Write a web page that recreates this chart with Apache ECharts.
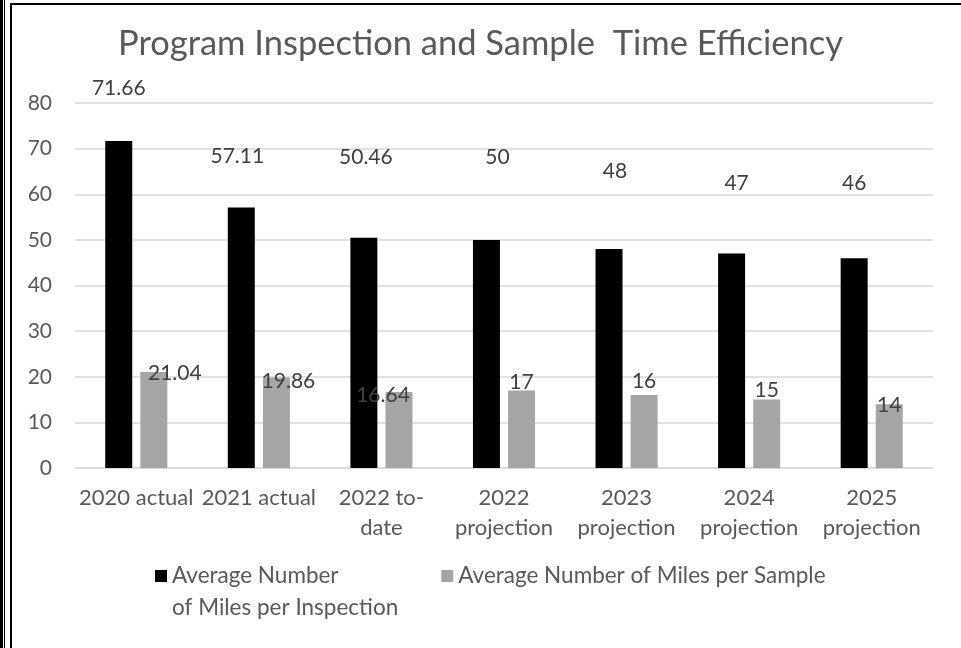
<!DOCTYPE html>
<html>
<head>
<meta charset="utf-8">
<title>Program Inspection and Sample Time Efficiency</title>
<script src="https://cdn.jsdelivr.net/npm/echarts@6/dist/echarts.min.js"></script>
<style>
    body { margin: 0; background: #fff; }
    #wrap { position: relative; width: 961px; height: 648px; overflow: hidden; }
    #main { position: absolute; left: 0; top: 0; width: 961px; height: 648px; }
    .ln { position: absolute; background: #000; }
</style>
</head>
<body>
<div id="wrap">
    <div id="main"></div>
    <!-- frame lines round the chart -->
    <div class="ln" style="left:0;top:0;width:3px;height:648px;"></div>
    <div class="ln" style="left:4px;top:0;width:1px;height:648px;"></div>
    <div class="ln" style="left:10px;top:3px;width:2px;height:645px;"></div>
    <div class="ln" style="left:10px;top:3px;width:951px;height:2px;"></div>
</div>
<script>
    // categories (x axis)
    var categories = ['2020 actual', '2021 actual', '2022 to-\ndate', '2022\nprojection',
        '2023\nprojection', '2024\nprojection', '2025\nprojection'];
    // Average Number of Miles per Inspection
    var inspectionMiles = [71.66, 57.11, 50.46, 50, 48, 47, 46];
    // Average Number of Miles per Sample
    var sampleMiles = [21.04, 19.86, 16.64, 17, 16, 15, 14];
    // y axis ticks
    var yTicks = [0, 10, 20, 30, 40, 50, 60, 70, 80];

    var seriesNames = ['Average Number\nof Miles per Inspection', 'Average Number of Miles per Sample'];

    // the data labels were dragged by hand in the original, nudge them the same way
    var inspLabelShift = [[0, -37], [-4, -36], [2, -65], [11, -67], [6, -62], [5, -55], [0, -59]];
    var sampleLabelShift = [[21, 17], [12, 19], [-16, 19], [0, 7], [0, 2], [0, 6], [0, 17]];

    var font = 'Lato, "Noto Sans", sans-serif';

    function withShift(values, shifts) {
        var out = [];
        for (var i = 0; i < values.length; i++) {
            out.push({value: values[i], label: {offset: shifts[i]}});
        }
        return out;
    }

    var chart = echarts.init(document.getElementById('main'));
    chart.setOption({
        animation: false,
        color: ['#000000', '#a5a5a5'],
        textStyle: {fontFamily: font},
        title: {
            text: 'Program Inspection and Sample  Time Efficiency',
            left: 'center',
            top: 21,
            padding: [5, 0, 5, 7],
            textStyle: {fontFamily: font, fontSize: 34.5, fontWeight: 'normal', color: '#595959'}
        },
        legend: {
            left: 150,
            top: 523,
            itemWidth: 12,
            itemHeight: 12,
            itemGap: 43,
            icon: 'rect',
            textStyle: {fontFamily: font, fontSize: 22.5, color: '#595959', lineHeight: 32},
            // first line of a two-line name sits level with its swatch
            formatter: function (name) {
                return name.indexOf('\n') >= 0 ? ' \n' + name : name;
            },
            data: seriesNames
        },
        grid: {left: 75, right: 28, top: 103, bottom: 180, containLabel: false},
        xAxis: {
            type: 'category',
            data: categories,
            axisLine: {lineStyle: {color: '#d9d9d9', width: 1.5}},
            axisTick: {show: false},
            axisLabel: {
                interval: 0,
                margin: 15,
                fontFamily: font,
                fontSize: 22,
                lineHeight: 30,
                color: '#595959',
                verticalAlign: 'top'
            }
        },
        yAxis: {
            type: 'value',
            min: yTicks[0],
            max: yTicks[yTicks.length - 1],
            interval: yTicks[1] - yTicks[0],
            axisLine: {show: false},
            axisTick: {show: false},
            splitLine: {lineStyle: {color: '#d9d9d9', width: 1.5}},
            axisLabel: {margin: 23, fontFamily: font, fontSize: 21, color: '#595959'}
        },
        series: [
            {
                name: seriesNames[0],
                type: 'bar',
                barWidth: 27,
                barGap: '30%',
                label: {show: true, position: 'top', fontFamily: font, fontSize: 21, color: '#404040'},
                data: withShift(inspectionMiles, inspLabelShift)
            },
            {
                name: seriesNames[1],
                type: 'bar',
                barWidth: 27,
                barGap: '30%',
                label: {show: true, position: 'top', fontFamily: font, fontSize: 21, color: '#404040'},
                data: withShift(sampleMiles, sampleLabelShift)
            }
        ]
    });
</script>
</body>
</html>
